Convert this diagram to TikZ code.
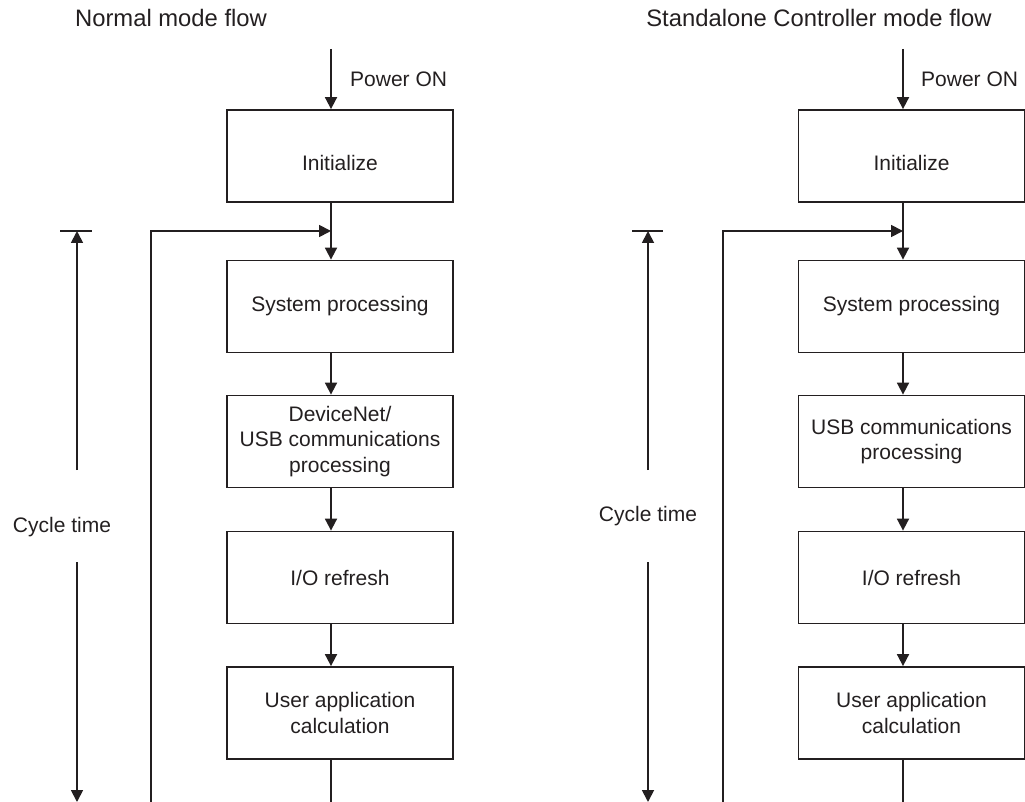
\documentclass[tikz,border=0pt]{standalone}
\usepackage{fontspec}
\setmainfont{Liberation Sans}
\usetikzlibrary{arrows.meta}
\definecolor{ink}{RGB}{35,31,32}
\begin{document}
\begin{tikzpicture}[x=1pt,y=-1pt,
  every node/.style={font=\fontsize{21}{25.5}\selectfont, inner sep=0pt, text=ink},
  box/.style={draw=ink, line width=1.8pt, minimum width=226pt, minimum height=92pt, align=center},
  lowtext/.style={text height=29.5pt, text depth=0pt},
  arr/.style={draw=ink, line width=1.8pt, -{Triangle[length=12pt,width=12pt]}},
  ln/.style={draw=ink, line width=1.8pt},
  ttl/.style={font=\fontsize{23.8}{28}\selectfont}]
\useasboundingbox (0,0) rectangle (1025,802);

% ---------- Left: Normal mode flow ----------
\node[ttl] (Ltitle) at (171,18) {Normal mode flow};
\node[box,lowtext] (Linit) at (340,156) {Initialize};
\node[box] (Lsys) at (340,306.5) {System processing};
\node[box] (Ldev) at (340,441.5) {DeviceNet/\\USB communications\\processing};
\node[box] (Lio) at (340,577.5) {I/O refresh};
\node[box] (Lusr) at (340,713) {User application\\calculation};
\node[anchor=west] (Lpon) at (350,79.5) {Power ON};

\coordinate (Lpow) at (331,49);
\coordinate (Lmerge) at (331,231);
\coordinate (Lend) at (331,802);
\coordinate (Lfb) at (151,802);

\draw[arr] (Lpow) -- (Lpow |- Linit.north);
\draw[arr] (Lpow |- Linit.south) -- (Lpow |- Lsys.north);
\draw[arr] (Lfb) |- (Lmerge);
\draw[arr] (Lpow |- Lsys.south) -- (Lpow |- Ldev.north);
\draw[arr] (Lpow |- Ldev.south) -- (Lpow |- Lio.north);
\draw[arr] (Lpow |- Lio.south) -- (Lpow |- Lusr.north);
\draw[ln] (Lpow |- Lusr.south) -- (Lend);

\coordinate (Ltl) at (60,231);
\coordinate (Ltr) at (92,231);
\coordinate (Lct) at (77,231);
\coordinate (Lcu) at (77,470);
\coordinate (Lcd) at (77,562);
\coordinate (Lcb) at (77,802);
\draw[ln] (Ltl) -- (Ltr);
\draw[arr] (Lcu) -- (Lct);
\draw[arr] (Lcd) -- (Lcb);
\node[anchor=base] (Lcyc) at (62,532) {Cycle time};

% ---------- Right: Standalone Controller mode flow ----------
\node[ttl] (Rtitle) at (819,18) {Standalone Controller mode flow};
\node[box,lowtext] (Rinit) at (911.5,156) {Initialize};
\node[box] (Rsys) at (911.5,306.5) {System processing};
\node[box] (Rusb) at (911.5,441.5) {USB communications\\processing};
\node[box] (Rio) at (911.5,577.5) {I/O refresh};
\node[box] (Rusr) at (911.5,713) {User application\\calculation};
\node[anchor=west] (Rpon) at (921,79.5) {Power ON};

\coordinate (Rpow) at (903,49);
\coordinate (Rmerge) at (903,231);
\coordinate (Rend) at (903,802);
\coordinate (Rfb) at (723,802);

\draw[arr] (Rpow) -- (Rpow |- Rinit.north);
\draw[arr] (Rpow |- Rinit.south) -- (Rpow |- Rsys.north);
\draw[arr] (Rfb) |- (Rmerge);
\draw[arr] (Rpow |- Rsys.south) -- (Rpow |- Rusb.north);
\draw[arr] (Rpow |- Rusb.south) -- (Rpow |- Rio.north);
\draw[arr] (Rpow |- Rio.south) -- (Rpow |- Rusr.north);
\draw[ln] (Rpow |- Rusr.south) -- (Rend);

\coordinate (Rtl) at (632,231);
\coordinate (Rtr) at (663,231);
\coordinate (Rct) at (648,231);
\coordinate (Rcu) at (648,470);
\coordinate (Rcd) at (648,562);
\coordinate (Rcb) at (648,802);
\draw[ln] (Rtl) -- (Rtr);
\draw[arr] (Rcu) -- (Rct);
\draw[arr] (Rcd) -- (Rcb);
\node[anchor=base] (Rcyc) at (648,521) {Cycle time};
\end{tikzpicture}
\end{document}
